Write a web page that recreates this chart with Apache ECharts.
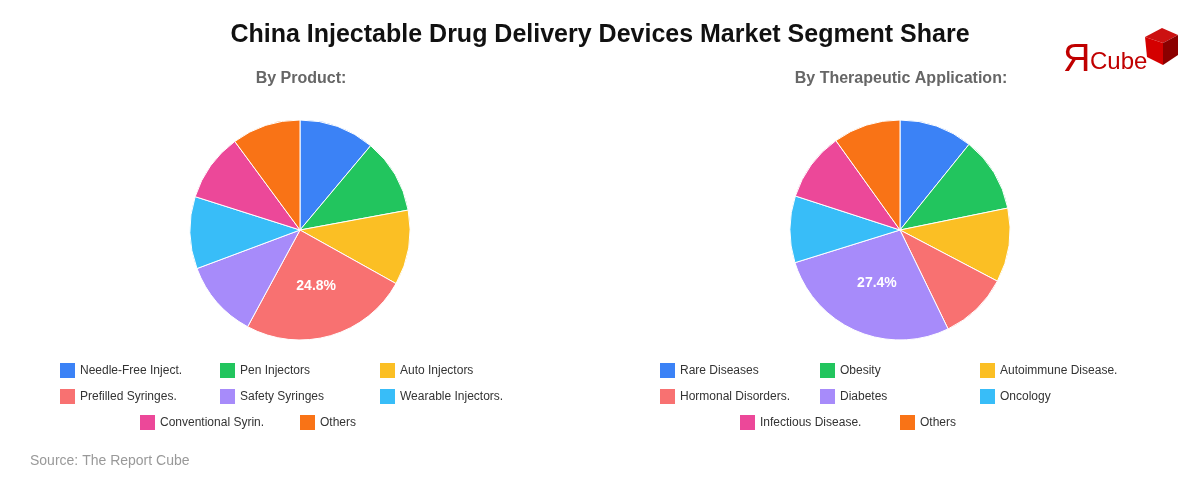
<!DOCTYPE html>
<html lang="en">
<head>
    <meta charset="UTF-8">
    <title>China Injectable Drug Delivery Devices Market Segment Share</title>
    <script type="text/javascript" src="https://cdn.jsdelivr.net/npm/echarts@6/dist/echarts.min.js"></script>
    <style>
        html, body { margin: 0; padding: 0; background: #fff; }
    </style>
</head>
<body>
<div id="main" style="width: 1200px; height: 480px"></div>

<script type="text/javascript">
    var myChart = echarts.init(document.getElementById('main'));

    // data
    var productNames = ['Needle-Free Inject.', 'Pen Injectors', 'Auto Injectors', 'Prefilled Syringes.',
        'Safety Syringes', 'Wearable Injectors.', 'Conventional Syrin.', 'Others'];
    var productShare = [11.1, 11.0, 11.0, 24.8, 11.4, 10.6, 10.0, 10.1];

    var appNames = ['Rare Diseases', 'Obesity', 'Autoimmune Disease.', 'Hormonal Disorders.',
        'Diabetes', 'Oncology', 'Infectious Disease.', 'Others'];
    var appShare = [10.8, 11.0, 10.9, 10.1, 27.4, 9.8, 10.1, 9.9];

    var colors = ['#3b82f6', '#22c55e', '#fbbf24', '#f87171', '#a78bfa', '#38bdf8', '#ec4899', '#f97316'];

    var font = '"Liberation Sans", Arial, sans-serif';

    function toData(names, values) {
        var out = [];
        for (var i = 0; i < names.length; i++) {
            out.push({ name: names[i], value: values[i], itemStyle: { color: colors[i] } });
        }
        return out;
    }

    // legend slots: 3 columns, last row of 2 centred
    var slots = [[0, 0], [160, 0], [320, 0], [0, 26], [160, 26], [320, 26], [80, 52], [240, 52]];

    function makeLegends(names, x0) {
        var out = [];
        for (var i = 0; i < names.length; i++) {
            out.push({
                data: [names[i]],
                left: x0 - 2 + slots[i][0],
                top: 361 + slots[i][1],
                padding: 0,
                itemWidth: 17,
                itemHeight: 17,
                itemGap: 0,
                icon: 'rect',
                selectedMode: false,
                textStyle: { fontFamily: font, fontSize: 12, color: '#333', padding: [0, 0, 0, -1] }
            });
        }
        return out;
    }

    function pieSeries(name, names, values, cx) {
        return {
            name: name,
            type: 'pie',
            center: [cx, 230],
            radius: [0, 110],
            startAngle: 90,
            clockwise: true,
            data: toData(names, values),
            itemStyle: { borderColor: '#fff', borderWidth: 1 },
            label: {
                show: true,
                position: 'inside',
                fontFamily: font,
                fontSize: 14,
                fontWeight: 'bold',
                color: '#fff',
                formatter: function (p) { return p.value > 20 ? p.value.toFixed(1) + '%' : ''; }
            },
            labelLine: { show: false },
            emphasis: { disabled: true },
            animation: false
        };
    }

    option = {
        animation: false,
        title: [
            { text: 'China Injectable Drug Delivery Devices Market Segment Share', left: 'center', top: 23, padding: 0,
              textStyle: { fontFamily: font, fontSize: 25, fontWeight: 'bold', color: '#111' } },
            { text: 'By Product:', left: 301, textAlign: 'center', top: 71, padding: 0,
              textStyle: { fontFamily: font, fontSize: 16, fontWeight: 'bold', color: '#666' } },
            { text: 'By Therapeutic Application:', left: 901, textAlign: 'center', top: 71, padding: 0,
              textStyle: { fontFamily: font, fontSize: 16, fontWeight: 'bold', color: '#666' } },
            { text: 'Source: The Report Cube', left: 30, top: 454, padding: 0,
              textStyle: { fontFamily: font, fontSize: 14, fontWeight: 'normal', color: '#999' } }
        ],
        legend: makeLegends(productNames, 60).concat(makeLegends(appNames, 660)),
        graphic: [
            { type: 'text', left: 1063, top: 42,
              style: { text: 'Я', font: '38px ' + font, fill: '#c00000' } },
            { type: 'text', left: 1090, top: 50,
              style: { text: 'Cube', font: '24px ' + font, fill: '#c00000' } },
            { type: 'polygon', shape: { points: [[1145, 37], [1162, 28], [1178, 35], [1163, 43]] },
              style: { fill: '#cc1111' } },
            { type: 'polygon', shape: { points: [[1145, 37], [1163, 43], [1163, 65], [1147, 57]] },
              style: { fill: '#d40000' } },
            { type: 'polygon', shape: { points: [[1163, 43], [1178, 35], [1178, 55], [1163, 65]] },
              style: { fill: '#8b0000' } }
        ],
        series: [
            pieSeries('By Product', productNames, productShare, 300),
            pieSeries('By Therapeutic Application', appNames, appShare, 900)
        ]
    };

    myChart.setOption(option);
</script>
</body>
</html>
